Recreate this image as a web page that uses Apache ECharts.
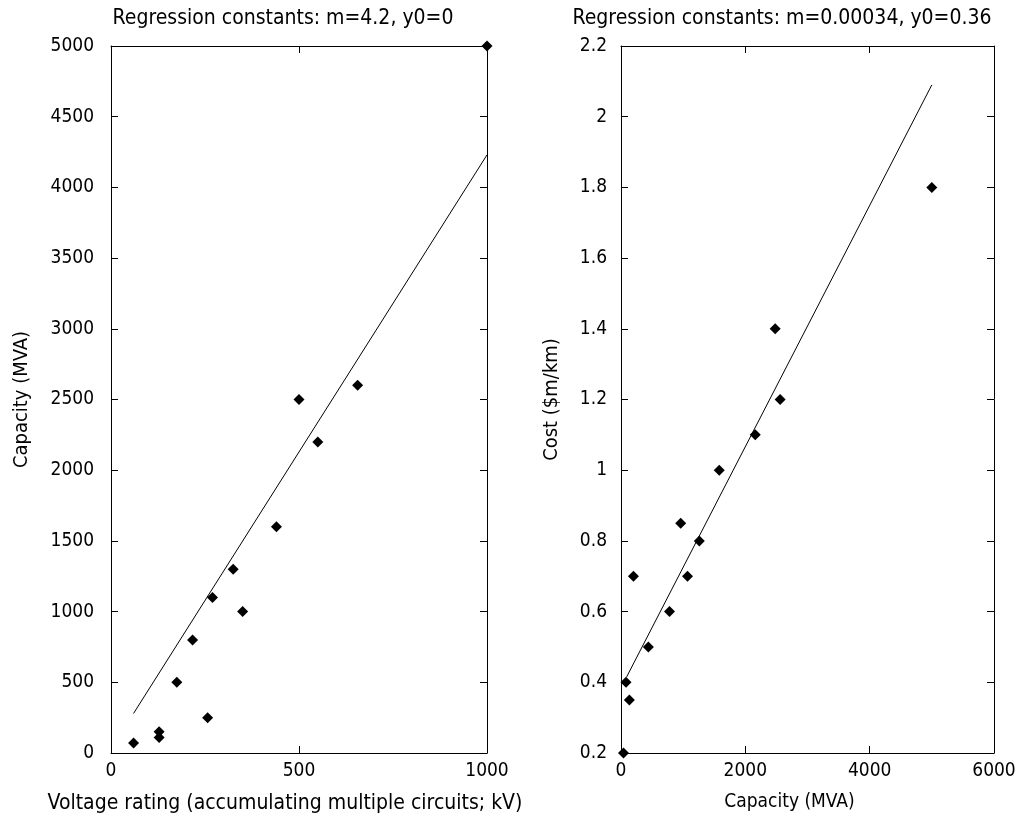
<!DOCTYPE html>
<html>
<head>
<meta charset="utf-8">
<script src="https://cdn.jsdelivr.net/npm/echarts@6/dist/echarts.min.js"></script>
<style>
html,body{margin:0;padding:0;background:#fff;}
#chart{width:1024px;height:823px;}
</style>
</head>
<body>
<div id="chart"></div>
<script>
// Left panel: voltage rating vs capacity
var voltageKV = [60, 128, 128, 175, 217, 257, 270, 325, 350, 440, 500, 550, 656, 1000];
var capacityLeftMVA = [70, 150, 110, 500, 800, 250, 1100, 1300, 1000, 1600, 2500, 2200, 2600, 5000];
var leftFitX = [60, 1000];
var leftFitY = [280, 4230];
var leftTitle = 'Regression constants: m=4.2, y0=0';
var leftXName = 'Voltage rating (accumulating multiple circuits; kV)';
var leftYName = 'Capacity (MVA)';

// Right panel: capacity vs cost
var capacityRightMVA = [40, 80, 135, 200, 440, 780, 960, 1070, 1260, 1580, 2160, 2480, 2560, 5000];
var costPerKm = [0.2, 0.4, 0.35, 0.7, 0.5, 0.6, 0.85, 0.7, 0.8, 1.0, 1.1, 1.4, 1.2, 1.8];
var rightFitX = [90, 5000];
var rightFitY = [0.415, 2.09];
var rightTitle = 'Regression constants: m=0.00034, y0=0.36';
var rightXName = 'Capacity (MVA)';
var rightYName = 'Cost ($m/km)';

function pairs(xs, ys) { return xs.map(function (x, i) { return [x, ys[i]]; }); }

var FONT = '"DejaVu Sans Condensed", "Liberation Sans", sans-serif';
var lineStyle = { color: '#000', width: 1 };
var TICK = { show: true, inside: false, length: -7, lineStyle: lineStyle };
function fmt(v) { return String(Math.round(v * 1000) / 1000); }

function mainX(grid, min, max, interval, name, nameSize, shift) {
  return {
    type: 'value', gridIndex: grid, position: 'bottom', min: min, max: max, interval: interval,
    name: name, nameLocation: 'middle', nameGap: 40,
    nameTextStyle: { color: '#000', fontFamily: FONT, fontSize: nameSize, padding: [0, shift, 0, 0] },
    axisLine: { show: true, onZero: false, lineStyle: lineStyle },
    axisTick: TICK,
    axisLabel: { show: true, margin: 9, color: '#000', fontFamily: FONT, fontSize: 19, formatter: fmt },
    splitLine: { show: false }
  };
}
function mirrorX(grid, min, max, interval) {
  return {
    type: 'value', gridIndex: grid, position: 'top', min: min, max: max, interval: interval,
    axisLine: { show: true, onZero: false, lineStyle: lineStyle },
    axisTick: TICK,
    axisLabel: { show: false }, splitLine: { show: false }
  };
}
function mainY(grid, min, max, interval, name, gap, margin) {
  return {
    type: 'value', gridIndex: grid, position: 'left', min: min, max: max, interval: interval,
    name: name, nameLocation: 'middle', nameGap: gap,
    nameTextStyle: { color: '#000', fontFamily: FONT, fontSize: 20 },
    axisLine: { show: true, onZero: false, lineStyle: lineStyle },
    axisTick: TICK,
    axisLabel: { show: true, margin: margin, color: '#000', fontFamily: FONT, fontSize: 19, formatter: fmt },
    splitLine: { show: false }
  };
}
function mirrorY(grid, min, max, interval) {
  return {
    type: 'value', gridIndex: grid, position: 'right', min: min, max: max, interval: interval,
    axisLine: { show: true, onZero: false, lineStyle: lineStyle },
    axisTick: TICK,
    axisLabel: { show: false }, splitLine: { show: false }
  };
}

var titleStyle = { color: '#000', fontFamily: FONT, fontSize: 21, fontWeight: 'normal' };
var markerStyle = { color: '#000', opacity: 1 };
var chart = echarts.init(document.getElementById('chart'), null, { renderer: 'canvas' });
chart.setOption({
  backgroundColor: '#fff',
  animation: false,
  title: [
    { text: leftTitle, left: 278, top: 3, textAlign: 'center', textStyle: titleStyle },
    { text: rightTitle, left: 777, top: 3, textAlign: 'center', textStyle: titleStyle }
  ],
  grid: [
    { left: 111, top: 46, width: 376, height: 707 },
    { left: 621, top: 46, width: 373, height: 707 }
  ],
  xAxis: [
    mainX(0, 0, 1000, 500, leftXName, 21, 28),
    mirrorX(0, 0, 1000, 500),
    mainX(1, 0, 6000, 2000, rightXName, 19, 36),
    mirrorX(1, 0, 6000, 2000)
  ],
  yAxis: [
    mainY(0, 0, 5000, 500, leftYName, 79, 17),
    mirrorY(0, 0, 5000, 500),
    mainY(1, 0.2, 2.2, 0.2, rightYName, 59, 14),
    mirrorY(1, 0.2, 2.2, 0.2)
  ],
  series: [
    { type: 'scatter', xAxisIndex: 0, yAxisIndex: 0, symbol: 'diamond', symbolSize: 11,
      itemStyle: markerStyle, data: pairs(voltageKV, capacityLeftMVA), z: 3 },
    { type: 'line', xAxisIndex: 0, yAxisIndex: 0, symbol: 'none',
      lineStyle: { color: '#000', width: 1 }, data: pairs(leftFitX, leftFitY) },
    { type: 'scatter', xAxisIndex: 2, yAxisIndex: 2, symbol: 'diamond', symbolSize: 11,
      itemStyle: markerStyle, data: pairs(capacityRightMVA, costPerKm), z: 3 },
    { type: 'line', xAxisIndex: 2, yAxisIndex: 2, symbol: 'none',
      lineStyle: { color: '#000', width: 1 }, data: pairs(rightFitX, rightFitY) }
  ]
});
</script>
</body>
</html>
